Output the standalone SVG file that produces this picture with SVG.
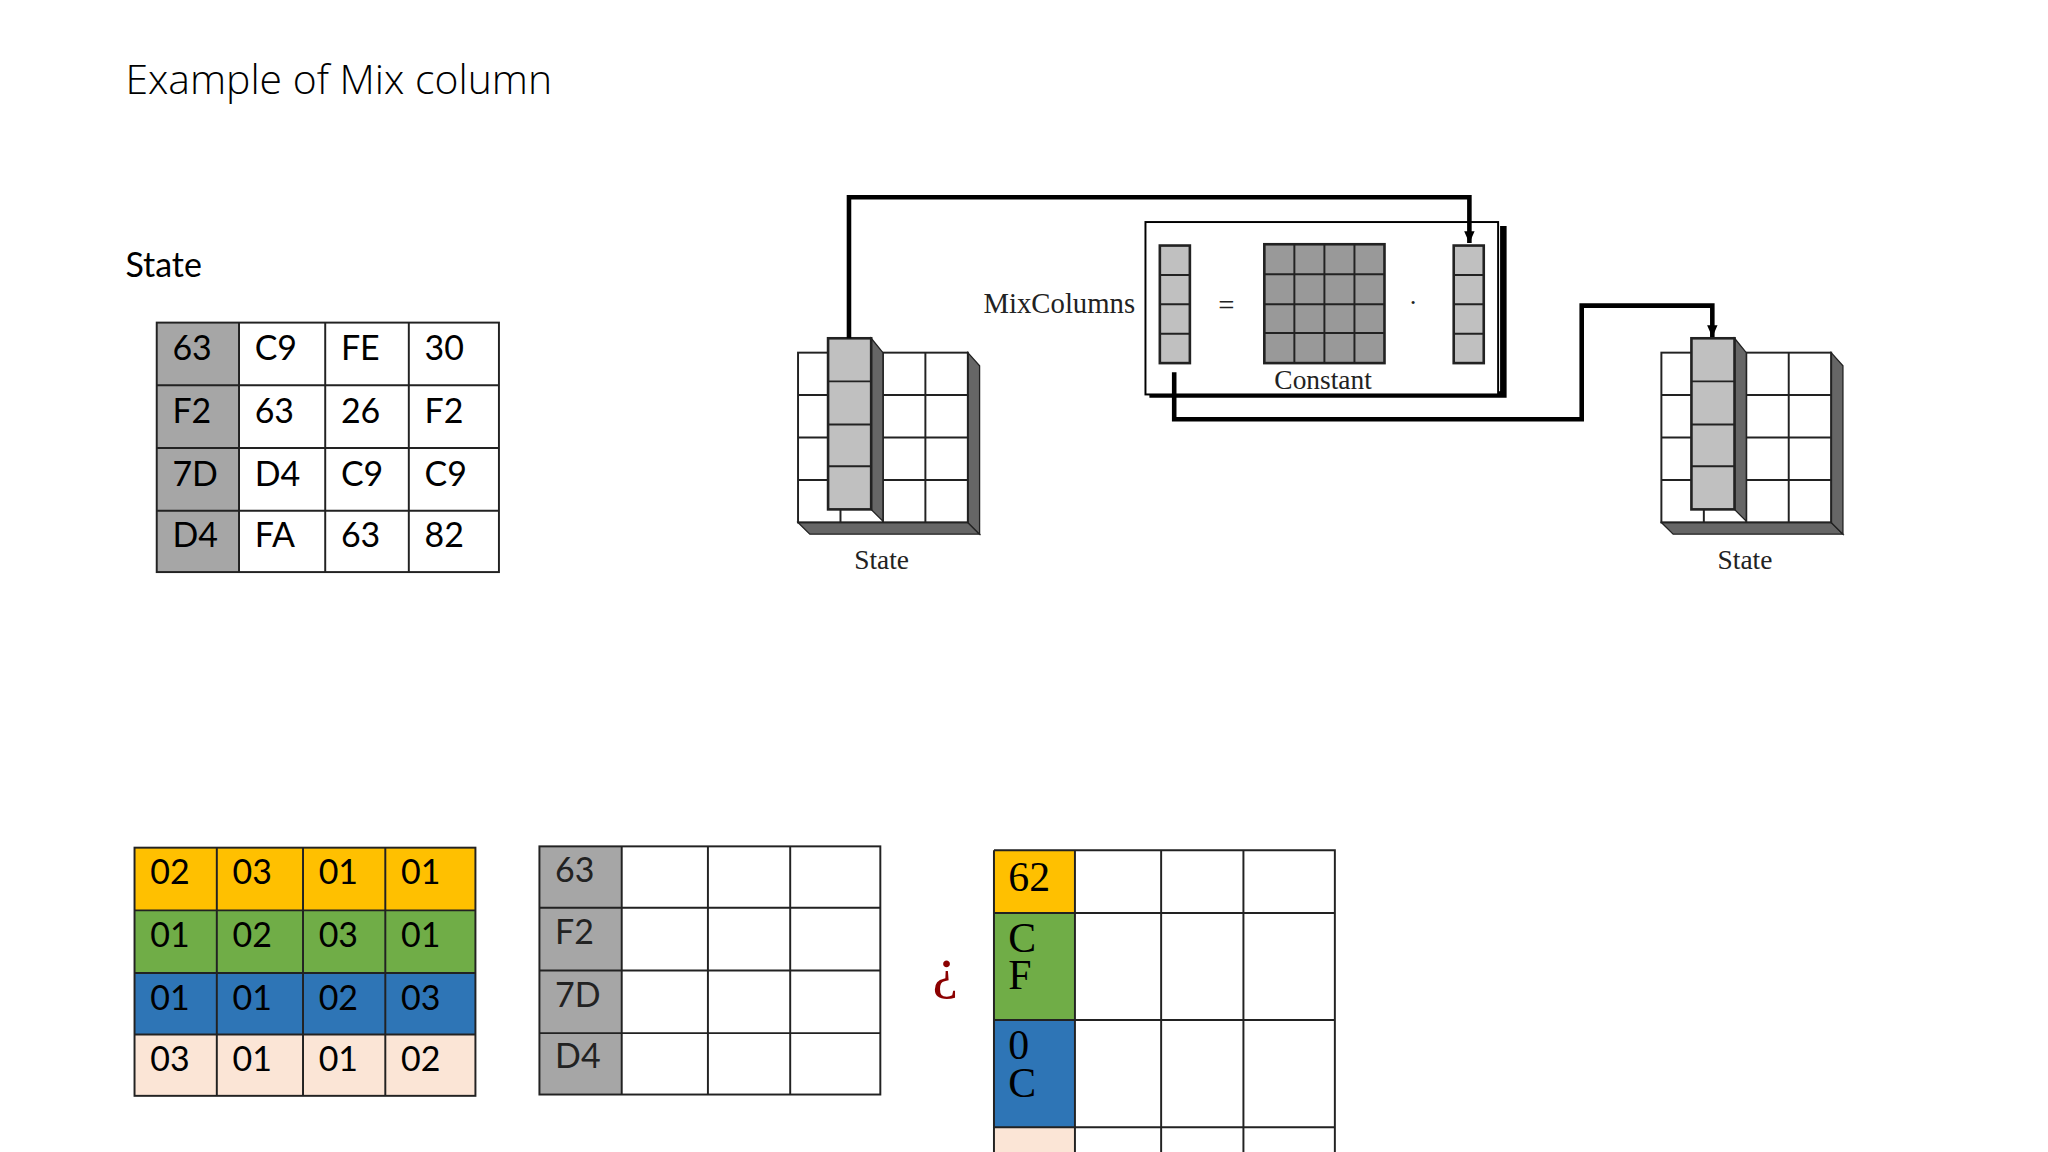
<svg xmlns="http://www.w3.org/2000/svg" width="2048" height="1152" viewBox="0 0 2048 1152">
<style>
.t{font-family:"Lato","Open Sans",sans-serif;font-size:26px;fill:#000}
.s{font-family:"Liberation Serif",serif;fill:#222}
.c{stroke:#222;stroke-width:1.5;fill:none}
.cn{stroke:#000;stroke-width:3.5;fill:none}
</style>
<defs><marker id="ar" markerWidth="10" markerHeight="10" refX="9" refY="4" orient="auto" markerUnits="userSpaceOnUse"><path d="M0,0 L9,4 L0,8z" fill="#000"/></marker></defs>
<rect width="2048" height="1152" fill="#fff"/>
<g transform="scale(1.30612)">
<text x="96" y="72" style="font-family:'Open Sans',sans-serif;font-weight:300;font-size:31.3px">Example of Mix column</text>
<text x="96" y="212" class="t">State</text>
<g id="state-table">
<rect x="120" y="247" width="63" height="191" fill="#a6a6a6"/>
<rect x="120" y="247" width="262" height="191" class="c"/>
<path class="c" d="M183 247V438M249 247V438M313 247V438M120 295H382M120 343H382M120 391H382"/>
<g class="t">
<text x="132" y="276">63</text><text x="195" y="276">C9</text><text x="261" y="276">FE</text><text x="325" y="276">30</text>
<text x="132" y="324">F2</text><text x="195" y="324">63</text><text x="261" y="324">26</text><text x="325" y="324">F2</text>
<text x="132" y="372">7D</text><text x="195" y="372">D4</text><text x="261" y="372">C9</text><text x="325" y="372">C9</text>
<text x="132" y="419">D4</text><text x="195" y="419">FA</text><text x="261" y="419">63</text><text x="325" y="419">82</text>
</g></g>
<g id="constant-matrix">
<rect x="103" y="649" width="261" height="48" fill="#ffc000"/>
<rect x="103" y="697" width="261" height="48" fill="#70ad47"/>
<rect x="103" y="745" width="261" height="47" fill="#2e75b6"/>
<rect x="103" y="792" width="261" height="47" fill="#fbe5d6"/>
<rect x="103" y="649" width="261" height="190" class="c"/>
<path class="c" d="M166 649V839M232 649V839M295 649V839M103 697H364M103 745H364M103 792H364"/>
<g class="t">
<text x="115" y="677">02</text><text x="178" y="677">03</text><text x="244" y="677">01</text><text x="307" y="677">01</text>
<text x="115" y="725">01</text><text x="178" y="725">02</text><text x="244" y="725">03</text><text x="307" y="725">01</text>
<text x="115" y="773">01</text><text x="178" y="773">01</text><text x="244" y="773">02</text><text x="307" y="773">03</text>
<text x="115" y="820">03</text><text x="178" y="820">01</text><text x="244" y="820">01</text><text x="307" y="820">02</text>
</g></g>
<g id="state-column">
<rect x="413" y="648" width="63" height="190" fill="#a6a6a6"/>
<rect x="413" y="648" width="261" height="190" class="c"/>
<path class="c" d="M476 648V838M542 648V838M605 648V838M413 695H674M413 743H674M413 791H674"/>
<g class="t" style="fill:#222">
<text x="425" y="675">63</text><text x="425" y="723">F2</text><text x="425" y="771">7D</text><text x="425" y="818">D4</text>
</g></g>
<text x="714" y="756" class="s" style="font-size:44px;fill:#8b0000">¿</text>
<g id="result">
<rect x="761" y="651" width="62" height="48" fill="#ffc000"/>
<rect x="761" y="699" width="62" height="82" fill="#70ad47"/>
<rect x="761" y="781" width="62" height="82" fill="#2e75b6"/>
<rect x="761" y="863" width="62" height="30" fill="#fbe5d6"/>
<path class="c" d="M761 651H1022V900M761 651V900M823 651V900M889 651V900M952 651V900M761 699H1022M761 781H1022M761 863H1022"/>
<g class="s" style="font-size:32px;fill:#000">
<text x="772" y="682">62</text>
<text x="772" y="729">C</text><text x="772" y="757">F</text>
<text x="772" y="811">0</text><text x="772" y="840">C</text>
</g></g>
<g id="state-cube-left">
<path d="M611 400L620 409H750L741 400z" fill="#666" stroke="#222"/>
<path d="M741 270L750 280V409L741 400z" fill="#666" stroke="#222"/>
<rect x="611" y="270" width="130" height="130" fill="#fff" class="c"/>
<path class="c" d="M643.5 270V400M676 270V400M708.5 270V400M611 302.5H741M611 335H741M611 367.5H741"/>
<path d="M667 259L676 270V399L667 390z" fill="#666" stroke="#222"/>
<rect x="634" y="259" width="33" height="131" fill="#c0c0c0" stroke="#222" stroke-width="2"/>
<path class="c" stroke-width="2" d="M634 292H667M634 325H667M634 357H667"/>
<text x="675" y="436" class="s" style="font-size:21px" text-anchor="middle">State</text>
</g>
<g id="state-cube-right" transform="translate(661,0)">
<path d="M611 400L620 409H750L741 400z" fill="#666" stroke="#222"/>
<path d="M741 270L750 280V409L741 400z" fill="#666" stroke="#222"/>
<rect x="611" y="270" width="130" height="130" fill="#fff" class="c"/>
<path class="c" d="M643.5 270V400M676 270V400M708.5 270V400M611 302.5H741M611 335H741M611 367.5H741"/>
<path d="M667 259L676 270V399L667 390z" fill="#666" stroke="#222"/>
<rect x="634" y="259" width="33" height="131" fill="#c0c0c0" stroke="#222" stroke-width="2"/>
<path class="c" stroke-width="2" d="M634 292H667M634 325H667M634 357H667"/>
<text x="675" y="436" class="s" style="font-size:21px" text-anchor="middle">State</text>
</g>
<g id="mix-box">
<text x="753" y="240" class="s" style="font-size:22px">MixColumns</text>
<path d="M880 302H1151V173" stroke="#000" stroke-width="5" fill="none"/>
<rect x="877" y="170" width="270" height="132" fill="#fff" stroke="#000" stroke-width="1.5"/>
<rect x="888" y="188" width="23" height="90" fill="#c0c0c0" stroke="#222" stroke-width="2"/>
<path class="c" stroke-width="2" d="M888 210.5H911M888 233H911M888 255.5H911"/>
<text x="939" y="241" class="s" style="font-size:22px" text-anchor="middle">=</text>
<rect x="968" y="187" width="92" height="91" fill="#999" stroke="#222" stroke-width="2"/>
<path class="c" stroke-width="2" d="M991 187V278M1014 187V278M1037 187V278M968 210H1060M968 233H1060M968 255H1060"/>
<text x="1013" y="298" class="s" style="font-size:21px" text-anchor="middle">Constant</text>
<text x="1082" y="238" class="s" style="font-size:20px" text-anchor="middle">·</text>
<rect x="1113" y="188" width="23" height="90" fill="#c0c0c0" stroke="#222" stroke-width="2"/>
<path class="c" stroke-width="2" d="M1113 210.5H1136M1113 233H1136M1113 255.5H1136"/>
</g>
<g id="connectors">
<path class="cn" d="M650 259V151H1125V186" marker-end="url(#ar)"/>
<path class="cn" d="M899 285V321H1211V234H1311V258" marker-end="url(#ar)"/>
</g>
</g>
</svg>
